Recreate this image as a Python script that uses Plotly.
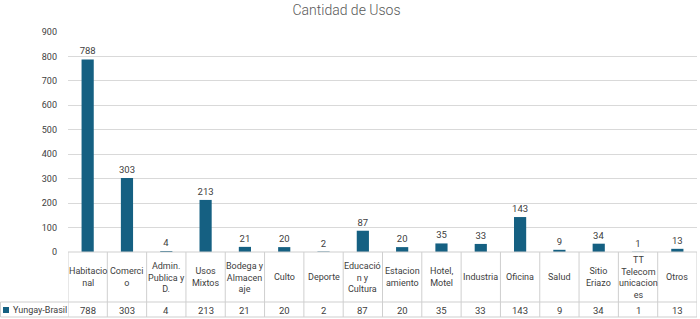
import plotly.graph_objects as go

categories = ["Habitacio<br>nal", "Comerci<br>o", "Admin.<br>Publica y<br>D.", "Usos<br>Mixtos",
              "Bodega y<br>Almacen<br>aje", "Culto", "Deporte", "Educació<br>n y<br>Cultura",
              "Estacion<br>amiento", "Hotel,<br>Motel", "Industria", "Oficina", "Salud",
              "Sitio<br>Eriazo", "TT<br>Telecom<br>unicacion<br>es", "Otros"]
values = [788, 303, 4, 213, 21, 20, 2, 87, 20, 35, 33, 143, 9, 34, 1, 13]
series_name = "Yungay-Brasil"
y_ticks = [0, 100, 200, 300, 400, 500, 600, 700, 800, 900]

W, H = 700, 319
L, R, T, B = 68, 3, 32, 67
pw = W - L - R
ph = H - T - B

BAR = "#156082"
TXT = "#404040"
GRID = "#d9d9d9"
LINE = "#cfcfcf"
FONT = "Roboto"

def py(p):  # pixel y -> paper y
    return (H - B - p) / ph

def px(p):  # pixel x -> paper x
    return (p - L) / pw

n = len(values)
xs = list(range(n))

fig = go.Figure()
fig.add_trace(go.Bar(
    x=xs, y=values, width=0.31, marker=dict(color=BAR, line=dict(width=0)),
    text=[str(v) for v in values], textposition="outside", constraintext="none",
    textfont=dict(size=9.5, color=TXT, family=FONT), cliponaxis=False,
    name=series_name, showlegend=False, hoverinfo="skip",
))

shapes = []
for i in range(n + 1):
    shapes.append(dict(type="line", xref="x", yref="paper", x0=i - 0.5, x1=i - 0.5,
                       y0=py(252), y1=py(317), line=dict(color=LINE, width=1)))
shapes.append(dict(type="line", xref="paper", yref="paper", x0=px(0.5), x1=px(0.5),
                   y0=py(302), y1=py(317), line=dict(color=LINE, width=1)))
shapes.append(dict(type="line", xref="x", yref="paper", x0=-0.5, x1=n - 0.5,
                   y0=py(252), y1=py(252), line=dict(color=LINE, width=1)))
for yy in (302, 317):
    shapes.append(dict(type="line", xref="paper", yref="paper", x0=px(0.5), x1=1,
                       y0=py(yy), y1=py(yy), line=dict(color=LINE, width=1)))
shapes.append(dict(type="rect", xref="paper", yref="paper", x0=px(3), x1=px(9),
                   y0=py(313), y1=py(307), fillcolor=BAR, line=dict(width=0)))

annotations = []
for i, lab in enumerate(categories):
    annotations.append(dict(x=i, y=py(277), xref="x", yref="paper", text=lab, showarrow=False,
                            xanchor="center", yanchor="middle", align="center",
                            font=dict(size=9, color=TXT, family=FONT)))
for i, v in enumerate(values):
    annotations.append(dict(x=i, y=py(310), xref="x", yref="paper", text=str(v), showarrow=False,
                            xanchor="center", yanchor="middle",
                            font=dict(size=9.5, color=TXT, family=FONT)))
annotations.append(dict(x=px(11), y=py(310), xref="paper", yref="paper", text=series_name,
                        showarrow=False, xanchor="left", yanchor="middle",
                        font=dict(size=9, color=TXT, family=FONT)))

fig.update_layout(
    width=W, height=H,
    margin=dict(l=L, r=R, t=T, b=B, pad=0),
    paper_bgcolor="white", plot_bgcolor="white",
    title=dict(text="Cantidad de Usos", x=0.495, xanchor="center", y=1 - 10 / H, yanchor="middle",
               font=dict(size=14, color="#595959", family=FONT, weight=300)),
    xaxis=dict(range=[-0.5, n - 0.5], showticklabels=False, showgrid=False, zeroline=False,
               showline=False, ticks="", fixedrange=True),
    yaxis=dict(range=[0, 900], tickvals=y_ticks, showgrid=True, gridcolor=GRID, gridwidth=1,
               zeroline=False, showline=False, ticks="", ticklabelstandoff=10, fixedrange=True,
               tickfont=dict(size=9, color=TXT, family=FONT)),
    shapes=shapes, annotations=annotations,
    showlegend=False, hovermode=False,
)

fig.write_html("out.html", config={"displayModeBar": False, "staticPlot": True},
               post_script="document.body.style.margin='0';document.body.style.overflow='hidden';")
